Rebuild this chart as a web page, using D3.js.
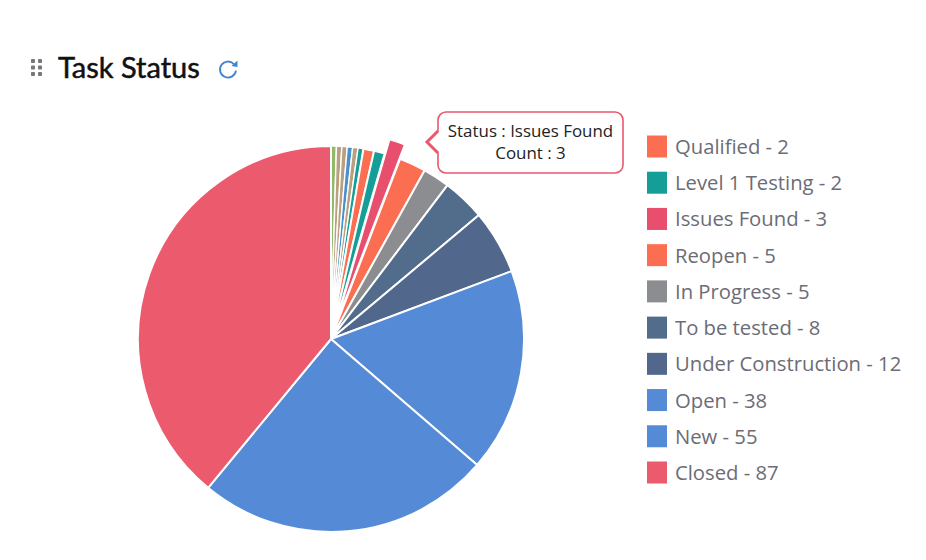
<!DOCTYPE html>
<html>
<head>
<meta charset="utf-8">
<script src="https://cdn.jsdelivr.net/npm/d3@7"></script>
<style>
html, body { margin: 0; padding: 0; background: #fff; }
svg { display: block; }
</style>
</head>
<body>
<svg id="chart" width="926" height="560"></svg>
<script>
// slices in drawing order, clockwise from 12 o'clock
// the first six are not in the legend, it only shows the top ten
var unlistedNames = ["Other 1", "Other 2", "Other 3", "Other 4", "Other 5", "Other 6"];
var unlistedValues = [1, 1, 1, 1, 1, 1];
var unlistedColors = ["#93b86a", "#b9a180", "#b9a180", "#4a8fd0", "#b9a180", "#159e98"];

var statusNames = ["Qualified", "Level 1 Testing", "Issues Found", "Reopen", "In Progress", "To be tested", "Under Construction", "Open", "New", "Closed"];
var statusValues = [2, 2, 3, 5, 5, 8, 12, 38, 55, 87];
var statusColors = ["#fb6e52", "#159e98", "#e84f6f", "#fb6e52", "#8b8d90", "#526d8c", "#51688c", "#558bd6", "#558bd6", "#ec5a6e"];

var selectedStatus = "Issues Found";

var svg = d3.select("#chart");

var names = unlistedNames.concat(statusNames);
var values = unlistedValues.concat(statusValues);
var color = d3.scaleOrdinal().domain(names).range(unlistedColors.concat(statusColors));

var cx = 331, cy = 339, radius = 193, explode = 15;

var pie = d3.pie().sort(null).value(function(d){return d.value});
var arc = d3.arc().innerRadius(0).outerRadius(radius);

var slices = pie(names.map(function(n, i){return {name: n, value: values[i]}}));

svg.append("g").attr("transform", "translate(" + cx + "," + cy + ")")
    .selectAll("path").data(slices).enter().append("path")
    .attr("d", arc)
    .attr("fill", function(d){return color(d.data.name)})
    .attr("stroke", "#fff")
    .attr("stroke-width", function(d){return d.data.value < 2 ? 1.4 : 2})
    .attr("stroke-linejoin", "round")
    .attr("transform", function(d){
        if (d.data.name !== selectedStatus) return null;
        var mid = (d.startAngle + d.endAngle) / 2;
        return "translate(" + (Math.sin(mid) * explode) + "," + (-Math.cos(mid) * explode) + ")";
    });

// title row
var header = svg.append("g");
[33, 40].forEach(function(x){
    [61, 67.5, 74].forEach(function(y){
        header.append("rect").attr("x", x - 2).attr("y", y - 2).attr("width", 4).attr("height", 4)
            .attr("rx", 0.8).attr("fill", "#77787a");
    });
});
header.append("text").attr("x", 58).attr("y", 78)
    .attr("font-family", "Lato").attr("font-size", 29).attr("font-weight", 400)
    .attr("fill", "#111").attr("stroke", "#111").attr("stroke-width", 0.5)
    .text("Task Status");

// refresh icon
var refresh = header.append("g").attr("transform", "translate(228,69.5)");
refresh.append("path").attr("d", d3.arc().innerRadius(8).outerRadius(8).startAngle(1.7).endAngle(7.1)())
    .attr("fill", "none").attr("stroke", "#3d85cf").attr("stroke-width", 1.8);
refresh.append("path").attr("d", "M9.5,-9 L9.5,-2.4 L3.4,-3.6 Z").attr("fill", "#3d85cf");

// legend
var legendY = d3.scalePoint().domain(statusNames).range([146.5, 472.5]);
var legend = svg.append("g").selectAll("g").data(statusNames).enter().append("g")
    .attr("transform", function(d){return "translate(647," + legendY(d) + ")"});
legend.append("rect").attr("x", 0).attr("y", -11).attr("width", 20).attr("height", 22)
    .attr("fill", function(d){return color(d)});
legend.append("text").attr("x", 28).attr("y", 7.5)
    .attr("font-family", "'Open Sans'").attr("font-size", 20.25).attr("fill", "#6c6c76")
    .text(function(d, i){return d + " - " + statusValues[i]});

// tooltip
var tip = svg.append("g");
tip.append("path")
    .attr("d", "M446,112 H615 A8,8 0 0 1 623,120 V165 A8,8 0 0 1 615,173 H446 A8,8 0 0 1 438,165 V153 L427,142 L438,131 V120 A8,8 0 0 1 446,112 Z")
    .attr("fill", "#fff").attr("stroke", "#e8596f").attr("stroke-width", 1.6);
tip.append("path").attr("d", "M438,131 L427,142 L438,153").attr("fill", "none")
    .attr("stroke", "#e8596f").attr("stroke-width", 3);
var tipText = tip.append("text").attr("text-anchor", "middle")
    .attr("font-family", "'Open Sans'").attr("font-size", 16.9).attr("fill", "#222");
tipText.append("tspan").attr("x", 530.5).attr("y", 137).text("Status : " + selectedStatus);
tipText.append("tspan").attr("x", 530.5).attr("y", 158.5).text("Count : " + statusValues[statusNames.indexOf(selectedStatus)]);
</script>
</body>
</html>
